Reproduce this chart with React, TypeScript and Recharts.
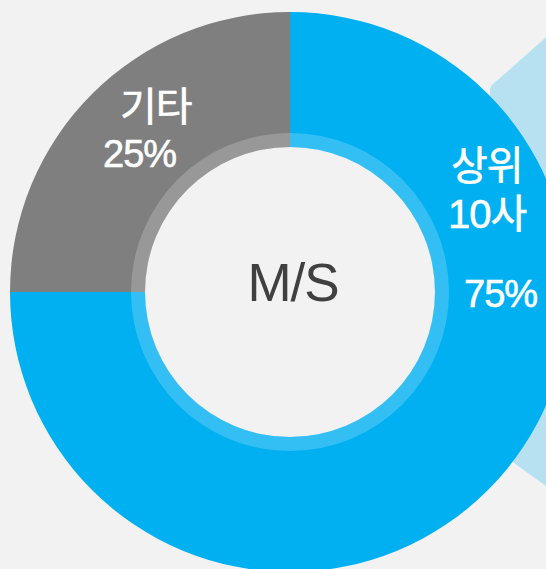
import React from "react";
import { PieChart, Pie, Cell, Label } from "recharts";

const names = ["상위 10사", "기타"];
const shares = [75, 25];
const colors = ["#00b0f0", "#7f7f7f"];
const centerTitle = "M/S";

const data = names.map((name, i) => ({ name, value: shares[i] }));

const FONT = "'Liberation Sans', Arial, 'Noto Sans CJK KR', sans-serif";

const labelPlacement: Record<string, { lines: { dx: number; dy: number; size: number }[] }> = {
  "상위 10사": {
    lines: [
      { dx: 161, dy: -112, size: 40 },
      { dx: 158, dy: -64, size: 40 },
      { dx: 174, dy: 15, size: 38 },
    ],
  },
  기타: {
    lines: [
      { dx: -170, dy: -171, size: 40 },
      { dx: -187, dy: -125, size: 38 },
    ],
  },
};

const renderLabel = (props: any) => {
  const { cx, cy, name, value } = props;
  const parts = String(name).split(" ");
  const texts = [...parts, `${value}%`];
  const place = labelPlacement[name];
  return (
    <g>
      {texts.map((t, i) => (
        <text
          key={i}
          x={cx + place.lines[i].dx}
          y={cy + place.lines[i].dy}
          fill="#ffffff"
          stroke="#ffffff"
          strokeWidth={0.6}
          fontSize={place.lines[i].size}
          fontFamily={FONT}
          fontWeight={400}
          textAnchor="start"
          letterSpacing={-1}
        >
          {t}
        </text>
      ))}
    </g>
  );
};

export default function App() {
  return (
    <div
      style={{
        position: "fixed",
        left: 0,
        top: 0,
        width: 546,
        height: 569,
        background: "#f2f2f2",
        overflow: "hidden",
      }}
    >
      <svg
        width={546}
        height={569}
        style={{ position: "absolute", left: 0, top: 0 }}
      >
        <path
          d="M 560 25 L 492 85 Q 490 87 490 91 L 490 446 L 560 496 Z"
          fill="#b7e1f1"
        />
      </svg>
      <div style={{ position: "absolute", left: 0, top: 0 }}>
        <PieChart width={546} height={569} margin={{ top: 0, right: 0, bottom: 0, left: 0 }}>
          <Pie
            data={data}
            dataKey="value"
            nameKey="name"
            cx={290}
            cy={292}
            innerRadius={145}
            outerRadius={280}
            startAngle={90}
            endAngle={-270}
            stroke="none"
            isAnimationActive={false}
            label={renderLabel}
            labelLine={false}
          >
            {data.map((d, i) => (
              <Cell key={d.name} fill={colors[i]} />
            ))}
          </Pie>
          <Pie
            data={data}
            dataKey="value"
            nameKey="name"
            cx={290}
            cy={292}
            innerRadius={145}
            outerRadius={159}
            startAngle={90}
            endAngle={-270}
            stroke="none"
            fill="#ffffff"
            fillOpacity={0.2}
            isAnimationActive={false}
          >
            <Label
              content={(p: any) => {
                const vb = p.viewBox || {};
                return (
                  <text
                    x={vb.cx + 3}
                    y={vb.cy + 9}
                    textAnchor="middle"
                    fill="#404040"
                    fontSize={53}
                    fontFamily={FONT}
                    letterSpacing={-1}
                  >
                    {centerTitle}
                  </text>
                );
              }}
            />
          </Pie>
        </PieChart>
      </div>
    </div>
  );
}
